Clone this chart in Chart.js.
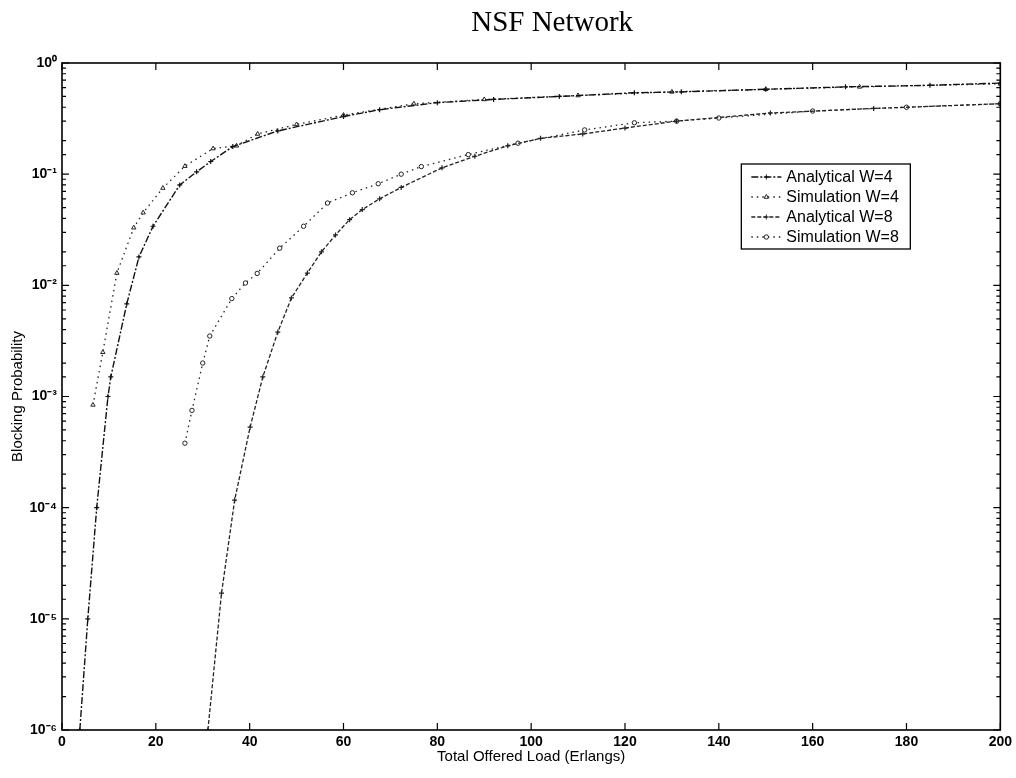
<!DOCTYPE html>
<html>
<head>
<meta charset="utf-8">
<title>NSF Network</title>
<script src="https://cdn.jsdelivr.net/npm/chart.js@4.4.0/dist/chart.umd.min.js"></script>
<style>
    body { margin: 0; background: #fff; }
    #wrap { width: 1016px; height: 778px; }
</style>
</head>
<body>
<div id="wrap"><canvas id="nsf-chart"></canvas></div>
<script>
// values: total offered load (Erlangs) -> blocking probability

const loadAnaW4 = [3.8, 5.5, 7.4, 9.8, 10.4, 13.8, 16.4, 19.4, 25.1, 28.7, 31.7, 36.4, 46, 60, 67.7, 80, 92, 106, 122, 132, 150, 167, 185, 200];
const probAnaW4 = [1e-6, 1e-5, 1e-4, 1e-3, 1.5e-3, 6.8e-3, 0.018, 0.034, 0.08, 0.105, 0.13, 0.177, 0.245, 0.33, 0.38, 0.44, 0.47, 0.50, 0.54, 0.55, 0.58, 0.61, 0.63, 0.66];

const loadSimW4 = [6.6, 8.7, 11.7, 15.3, 17.3, 21.5, 26.2, 32.2, 37.2, 41.7, 50, 60, 75, 90, 110, 130, 150, 170, 200];
const probSimW4 = [8.4e-4, 2.5e-3, 0.0129, 0.033, 0.045, 0.075, 0.118, 0.17, 0.18, 0.23, 0.28, 0.34, 0.43, 0.47, 0.51, 0.55, 0.58, 0.61, 0.65];

const loadAnaW8 = [31.1, 34.0, 36.8, 40.1, 42.8, 46.0, 48.9, 52.3, 55.3, 58.3, 61.3, 64.0, 67.7, 72.3, 81, 88, 95, 102, 111, 120, 131, 151, 173, 200];
const probAnaW8 = [1e-6, 1.7e-5, 1.17e-4, 5.3e-4, 1.5e-3, 3.8e-3, 7.7e-3, 0.0129, 0.02, 0.0284, 0.039, 0.048, 0.06, 0.076, 0.114, 0.145, 0.18, 0.21, 0.23, 0.26, 0.30, 0.355, 0.39, 0.43];

const loadSimW8 = [26.2, 27.7, 30.0, 31.5, 36.2, 39.1, 41.6, 46.4, 51.5, 56.6, 61.9, 67.4, 72.3, 76.6, 86.6, 97.2, 111.4, 122, 131, 140, 160, 180, 200];
const probSimW8 = [3.8e-4, 7.5e-4, 2e-3, 3.5e-3, 7.6e-3, 0.0105, 0.0128, 0.0216, 0.034, 0.055, 0.068, 0.082, 0.10, 0.117, 0.15, 0.19, 0.25, 0.29, 0.30, 0.32, 0.37, 0.40, 0.43];

const seriesNames = ['Analytical W=4', 'Simulation W=4', 'Analytical W=8', 'Simulation W=8'];
const xTicks = [0, 20, 40, 60, 80, 100, 120, 140, 160, 180, 200];
const yTickLabels = ['10⁻⁶', '10⁻⁵', '10⁻⁴', '10⁻³', '10⁻²', '10⁻¹', '10⁰'];

function pairs(xs, ys) {
    return xs.map((x, i) => ({ x: x, y: ys[i] }));
}

const sansFont = 'Liberation Sans, Arial, sans-serif';

// inward tick marks and the closed frame, like the original plot
const frameTicks = {
    id: 'frameTicks',
    afterDatasetsDraw(chart) {
        const { ctx, chartArea: a, scales } = chart;
        ctx.save();
        ctx.strokeStyle = '#000';
        ctx.lineWidth = 1.2;
        ctx.beginPath();
        xTicks.forEach((t) => {
            const px = scales.x.getPixelForValue(t);
            ctx.moveTo(px, a.bottom); ctx.lineTo(px, a.bottom - 7);
            ctx.moveTo(px, a.top); ctx.lineTo(px, a.top + 7);
        });
        scales.y.ticks.forEach((t) => {
            const py = scales.y.getPixelForValue(t.value);
            const exp = Math.log10(t.value);
            const len = Math.abs(exp - Math.round(exp)) < 1e-9 ? 7 : 4;
            ctx.moveTo(a.left, py); ctx.lineTo(a.left + len, py);
            ctx.moveTo(a.right, py); ctx.lineTo(a.right - len, py);
        });
        ctx.stroke();
        ctx.lineWidth = 1.6;
        ctx.strokeRect(a.left, a.top, a.right - a.left, a.bottom - a.top);
        ctx.restore();
    }
};

// boxed legend inside the plot area
const legendBox = {
    id: 'legendBox',
    afterDraw(chart) {
        const { ctx, chartArea: a } = chart;
        const left = a.right - 259;
        const top = a.top + 101;
        ctx.save();
        ctx.fillStyle = '#fff';
        ctx.fillRect(left, top, 169, 85);
        ctx.strokeStyle = '#000';
        ctx.lineWidth = 1.3;
        ctx.strokeRect(left, top, 169, 85);
        chart.data.datasets.forEach((ds, i) => {
            const y = top + 13 + i * 20;
            ctx.strokeStyle = ds.borderColor;
            ctx.lineWidth = ds.borderWidth;
            ctx.setLineDash(ds.borderDash);
            ctx.beginPath();
            ctx.moveTo(left + 10, y);
            ctx.lineTo(left + 40, y);
            ctx.stroke();
            ctx.setLineDash([]);
            ctx.fillStyle = ds.pointBackgroundColor;
            ctx.lineWidth = 1;
            Chart.helpers.drawPoint(ctx, {
                pointStyle: ds.pointStyle,
                radius: ds.pointRadius,
                rotation: 0,
                borderWidth: 1
            }, left + 25, y);
            ctx.fillStyle = '#000';
            ctx.font = '16px ' + sansFont;
            ctx.textBaseline = 'middle';
            ctx.fillText(ds.label, left + 45, y + 1);
        });
        ctx.restore();
    }
};

const pageTitle = {
    id: 'pageTitle',
    afterDraw(chart) {
        const { ctx, chartArea: a } = chart;
        ctx.save();
        ctx.fillStyle = '#000';
        ctx.font = '29px Liberation Serif, Times New Roman, serif';
        ctx.textAlign = 'center';
        ctx.textBaseline = 'alphabetic';
        ctx.fillText('NSF Network', (a.left + a.right) / 2 + 21, 31);
        ctx.restore();
    }
};

const chartData = {
    datasets: [
        {
            label: seriesNames[0],
            data: pairs(loadAnaW4, probAnaW4),
            borderColor: '#111',
            borderWidth: 1.4,
            borderDash: [7, 2, 2, 2],
            pointStyle: 'cross',
            pointRadius: 2.5,
            pointBorderColor: '#111',
            pointBackgroundColor: '#111',
            pointBorderWidth: 1.2
        },
        {
            label: seriesNames[1],
            data: pairs(loadSimW4, probSimW4),
            borderColor: '#222',
            borderWidth: 1.3,
            borderDash: [1.5, 4],
            pointStyle: 'triangle',
            pointRadius: 2.5,
            pointBorderColor: '#222',
            pointBackgroundColor: '#fff',
            pointBorderWidth: 1
        },
        {
            label: seriesNames[2],
            data: pairs(loadAnaW8, probAnaW8),
            borderColor: '#222',
            borderWidth: 1.3,
            borderDash: [4, 2],
            pointStyle: 'cross',
            pointRadius: 2.5,
            pointBorderColor: '#222',
            pointBackgroundColor: '#222',
            pointBorderWidth: 1.2
        },
        {
            label: seriesNames[3],
            data: pairs(loadSimW8, probSimW8),
            borderColor: '#222',
            borderWidth: 1.3,
            borderDash: [1.5, 4],
            pointStyle: 'circle',
            pointRadius: 2.2,
            pointBorderColor: '#222',
            pointBackgroundColor: '#fff',
            pointBorderWidth: 1
        }
    ]
};

const config = {
    type: 'line',
    data: chartData,
    options: {
        responsive: true,
        maintainAspectRatio: false,
        animation: false,
        layout: { padding: { top: 63, right: 0, left: 0, bottom: 0 } },
        plugins: {
            legend: { display: false },
            title: { display: false },
            tooltip: { enabled: false }
        },
        elements: { line: { tension: 0, fill: false } },
        scales: {
            x: {
                type: 'linear',
                min: 0,
                max: 200,
                grid: { display: false, drawTicks: false },
                border: { display: false },
                afterBuildTicks(scale) {
                    scale.ticks = xTicks.map((v) => ({ value: v }));
                },
                afterFit(scale) {
                    scale.height = 48;
                },
                ticks: {
                    padding: 4,
                    color: '#000',
                    font: { family: sansFont, size: 14, weight: 'bold' }
                },
                title: {
                    display: true,
                    text: 'Total Offered Load (Erlangs)',
                    color: '#000',
                    padding: { bottom: 12 },
                    font: { family: sansFont, size: 15 }
                }
            },
            y: {
                type: 'logarithmic',
                min: 1e-6,
                max: 1,
                grid: { display: false, drawTicks: false },
                border: { display: false },
                afterFit(scale) {
                    scale.width = 62;
                },
                ticks: {
                    autoSkip: false,
                    padding: 5,
                    color: '#000',
                    font: { family: sansFont, size: 14, weight: 'bold' },
                    callback(value) {
                        const e = Math.log10(value);
                        if (Math.abs(e - Math.round(e)) > 1e-9) return '';
                        return yTickLabels[Math.round(e) + 6];
                    }
                },
                title: {
                    display: true,
                    text: 'Blocking Probability',
                    color: '#000',
                    padding: { top: 9 },
                    font: { family: sansFont, size: 15 }
                }
            }
        }
    },
    plugins: [frameTicks, legendBox, pageTitle]
};

const ctx = document.getElementById('nsf-chart').getContext('2d');
const nsfChart = new Chart(ctx, config);
</script>
</body>
</html>
